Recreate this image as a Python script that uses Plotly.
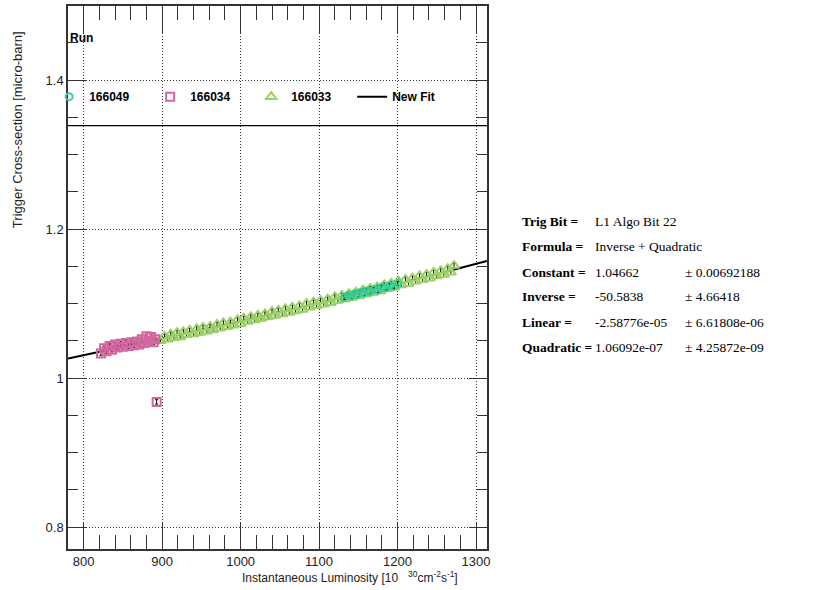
import plotly.graph_objects as go
import numpy as np

# ---- data ----
run_166034_x = [822, 826, 829, 833, 836, 840, 843, 847, 850, 854, 857, 861, 864, 868, 871, 874, 877, 880, 883, 886, 889, 891, 893]
run_166034_y = [1.033, 1.040, 1.036, 1.043, 1.038, 1.045, 1.041, 1.046, 1.042, 1.047, 1.043, 1.048, 1.044, 1.049, 1.045, 1.052, 1.047, 1.056, 1.050, 1.055, 1.048, 1.052, 0.968]

run_166033_x = [898, 903, 907, 911, 915, 919, 923, 927, 931, 935, 940, 944, 948, 952, 957, 961, 965, 970, 974, 978,
                983, 987, 991, 996, 1000, 1004, 1009, 1013, 1018, 1022, 1026, 1031, 1035, 1040, 1044, 1048, 1053, 1057,
                1062, 1066, 1070, 1075, 1079, 1084, 1088, 1093, 1097, 1102, 1106, 1111, 1115, 1120, 1124, 1129, 1133,
                1138, 1142, 1147, 1151, 1156, 1160, 1165, 1169, 1174, 1178, 1183, 1187, 1192, 1196, 1201, 1205, 1210,
                1214, 1219, 1223, 1228, 1232, 1237, 1241, 1246, 1250, 1255, 1259, 1264, 1268, 1272]
run_166033_y = [1.050, 1.056, 1.052, 1.059, 1.054, 1.061, 1.055, 1.062, 1.058, 1.064, 1.059, 1.066, 1.061, 1.068, 1.063,
                1.069, 1.065, 1.072, 1.067, 1.074, 1.069, 1.075, 1.071, 1.078, 1.073, 1.080, 1.076, 1.082, 1.078, 1.084,
                1.080, 1.086, 1.082, 1.089, 1.084, 1.091, 1.086, 1.093, 1.088, 1.095, 1.090, 1.097, 1.092, 1.100, 1.095,
                1.102, 1.097, 1.104, 1.099, 1.106, 1.101, 1.109, 1.104, 1.111, 1.106, 1.113, 1.108, 1.115, 1.110, 1.118,
                1.113, 1.120, 1.115, 1.122, 1.117, 1.125, 1.120, 1.127, 1.122, 1.130, 1.125, 1.132, 1.127, 1.134, 1.130,
                1.137, 1.132, 1.139, 1.134, 1.142, 1.137, 1.144, 1.139, 1.147, 1.142, 1.151]

run_166049_x = [1132, 1137, 1141, 1145, 1149, 1153, 1157, 1161, 1165, 1170, 1175, 1180, 1185, 1190, 1195, 1200]
run_166049_y = [1.108, 1.111, 1.110, 1.113, 1.112, 1.115, 1.114, 1.117, 1.116, 1.119, 1.118, 1.122, 1.121, 1.124, 1.123, 1.127]

point_error = 0.003

# fit parameters (as printed in the panel)
fit_constant = 1.04662
fit_inverse = -50.5838
fit_linear = -2.58776e-05
fit_quadratic = 1.06092e-07

panel_labels = ["Trig Bit =", "Formula =", "Constant =", "Inverse =", "Linear =", "Quadratic ="]
panel_values = ["L1 Algo Bit 22", "Inverse + Quadratic", "1.04662", "-50.5838", "-2.58776e-05", "1.06092e-07"]
panel_errors = ["", "", "± 0.00692188", "± 4.66418", "± 6.61808e-06", "± 4.25872e-09"]

x_ticks = [800, 900, 1000, 1100, 1200, 1300]
y_ticks = [0.8, 1.0, 1.2, 1.4]
y_tick_text = ["0.8", "1", "1.2", "1.4"]

x_range = [780, 1314]
y_range = [0.7705, 1.4995]

# ---- figure ----
fit_x = np.linspace(x_range[0], x_range[1], 300)
fit_y = fit_constant + fit_inverse / fit_x + fit_linear * fit_x + fit_quadratic * fit_x ** 2

PINK = "#d4669f"
GREEN = "#9bd064"
TEAL = "#35cf98"

fig = go.Figure()
fig.add_trace(go.Scatter(x=fit_x, y=fit_y, mode="lines", name="New Fit",
                         line=dict(color="black", width=2), legendrank=4))

err = dict(type="constant", value=point_error, color="black", thickness=1, width=1.5)

fig.add_trace(go.Scatter(x=run_166033_x, y=run_166033_y, mode="markers", name="166033",
                         marker=dict(symbol="triangle-up-open", size=9, color=GREEN, line=dict(width=2, color=GREEN)),
                         error_y=err, legendrank=3))
fig.add_trace(go.Scatter(x=run_166049_x, y=run_166049_y, mode="markers", name="166049",
                         marker=dict(symbol="circle-open", size=7, color=TEAL, line=dict(width=2, color=TEAL)),
                         error_y=err, legendrank=1))
fig.add_trace(go.Scatter(x=run_166034_x, y=run_166034_y, mode="markers", name="166034",
                         marker=dict(symbol="square-open", size=8, color=PINK, line=dict(width=2, color=PINK)),
                         error_y=err, legendrank=2))

axis_common = dict(showline=True, linecolor="#333", linewidth=1.5, mirror="ticks",
                   ticks="inside", tickcolor="#333", tickwidth=1.2,
                   showgrid=True, gridcolor="#333", griddash="1px,2px", gridwidth=1,
                   zeroline=False, tickfont=dict(family="Liberation Sans, Arial", size=13, color="#222"))

fig.update_xaxes(range=x_range, tickvals=x_ticks, ticklen=27,
                 minor=dict(dtick=20, tick0=800, ticklen=14, ticks="inside", tickcolor="#333", showgrid=False),
                 **axis_common)
fig.update_yaxes(range=y_range, tickvals=y_ticks, ticktext=y_tick_text, ticklen=18,
                 minor=dict(dtick=0.05, tick0=0.8, ticklen=10, ticks="inside", tickcolor="#333", showgrid=False),
                 **axis_common)

annotations = []
annotations.append(dict(text="<b>Run</b>", x=0.0, y=0.941, xref="paper", yref="paper", xanchor="left",
                        yanchor="middle", showarrow=False,
                        font=dict(family="Liberation Sans, Arial", size=12, color="black")))
annotations.append(dict(text="Trigger Cross-section [micro-barn]", x=-0.122, y=0.773, xref="paper", yref="paper",
                        textangle=-90, xanchor="center", yanchor="middle", showarrow=False,
                        font=dict(family="Liberation Sans, Arial", size=13, color="#222")))
annotations.append(dict(text="Instantaneous Luminosity [10 &nbsp;&nbsp;<sup>30</sup>cm<sup>-2</sup>s<sup>-1</sup>]",
                        x=0.9356, y=-0.051, xref="paper", yref="paper", xanchor="right", yanchor="middle",
                        showarrow=False, font=dict(family="Liberation Sans, Arial", size=12, color="#222")))

row_y = [0.6037, 0.5578, 0.5101, 0.4642, 0.4165, 0.3706]
for lab, val, er, yy in zip(panel_labels, panel_values, panel_errors, row_y):
    f = dict(family="Liberation Serif, Times New Roman", size=13.5, color="black")
    annotations.append(dict(text="<b>" + lab + "</b>", x=1.0788, y=yy, xref="paper", yref="paper",
                            xanchor="left", yanchor="middle", showarrow=False, font=f))
    annotations.append(dict(text=val, x=1.253, y=yy, xref="paper", yref="paper",
                            xanchor="left", yanchor="middle", showarrow=False, font=f))
    if er:
        annotations.append(dict(text=er, x=1.4678, y=yy, xref="paper", yref="paper",
                                xanchor="left", yanchor="middle", showarrow=False, font=f))

fig.update_layout(
    width=832, height=590,
    margin=dict(l=68, r=345, t=4, b=41),
    paper_bgcolor="white", plot_bgcolor="white",
    annotations=annotations,
    shapes=[dict(type="line", xref="paper", yref="paper", x0=0, x1=1, y0=0.7798, y1=0.7798,
                 line=dict(color="black", width=1.2))],
    showlegend=True,
    legend=dict(orientation="h", x=-0.045, xanchor="left", y=0.833, yanchor="middle",
                bgcolor="rgba(0,0,0,0)", borderwidth=0, entrywidth=56, entrywidthmode="pixels",
                font=dict(family="Liberation Sans, Arial", size=12, color="black", weight="bold"),
                itemclick=False),
)

fig.write_html("out.html", config={"displayModeBar": False},
               post_script="document.body.style.margin='0';document.body.style.overflow='hidden';")
